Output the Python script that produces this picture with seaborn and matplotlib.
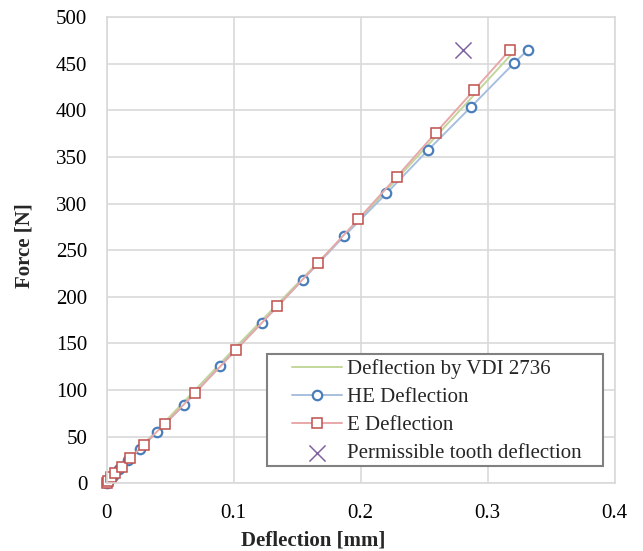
import matplotlib
matplotlib.use("Agg")
import matplotlib.pyplot as plt
from matplotlib.patches import Rectangle
import seaborn as sns
import pandas as pd

# values
vdi_defl = [0.0, 0.0995, 0.1985, 0.322]
vdi_force = [0.0, 143.0, 282.0, 465.0]

he_defl = [0.0, 0.002, 0.005, 0.0097, 0.017, 0.0265, 0.0396, 0.0605, 0.089,
           0.122, 0.1546, 0.1869, 0.2202, 0.253, 0.2871, 0.3207, 0.3317]
he_force = [0.0, 3.5, 8.0, 15.0, 24.5, 37.0, 55.0, 83.5, 125.5,
            172.0, 218.5, 265.0, 310.8, 357.3, 404.0, 450.6, 465.0]

e_defl = [0.0, 0.001, 0.0037, 0.0068, 0.012, 0.0187, 0.029, 0.0457, 0.0693,
          0.1018, 0.1344, 0.166, 0.1979, 0.2286, 0.259, 0.2895, 0.3176]
e_force = [0.7, 2.9, 6.4, 10.7, 17.5, 26.8, 41.5, 63.5, 96.6,
           143.0, 189.6, 235.7, 282.9, 329.0, 375.8, 422.0, 465.0]

perm_defl = [0.2803]
perm_force = [465.0]

x_ticks = [0, 0.1, 0.2, 0.3, 0.4]
x_labels = ["0", "0.1", "0.2", "0.3", "0.4"]
y_ticks = [0, 50, 100, 150, 200, 250, 300, 350, 400, 450, 500]

sns.set_style("whitegrid")
plt.rcParams['font.family'] = ['Liberation Serif', 'DejaVu Serif']

fig, ax = plt.subplots(figsize=(6.43, 5.51), dpi=100)
fig.subplots_adjust(left=0.166, right=0.956, top=0.969, bottom=0.123)

vdi = pd.DataFrame({"x": vdi_defl, "y": vdi_force})
he = pd.DataFrame({"x": he_defl, "y": he_force})
e = pd.DataFrame({"x": e_defl, "y": e_force})
perm = pd.DataFrame({"x": perm_defl, "y": perm_force})

sns.lineplot(data=vdi, x="x", y="y", sort=False, ax=ax, color="#C3D69B",
             lw=1.4, label="Deflection by VDI 2736", clip_on=False)
sns.lineplot(data=he, x="x", y="y", sort=False, ax=ax, color="#A7BFDE",
             lw=1.4, marker="o", ms=6.8, mfc="white", mec="#4A7EBB", mew=1.6,
             label="HE Deflection", clip_on=False)
sns.lineplot(data=e, x="x", y="y", sort=False, ax=ax, color="#E6A9A8",
             lw=1.4, marker="s", ms=6.5, mfc="white", mec="#C0504D", mew=1.1,
             label="E Deflection", clip_on=False)
sns.scatterplot(data=perm, x="x", y="y", ax=ax, marker="x", s=135,
                color="#8064A2", linewidth=1.1,
                label="Permissible tooth deflection")

ax.set_xlim(0, 0.4)
ax.set_ylim(0, 500)
ax.set_xticks(x_ticks)
ax.set_xticklabels(x_labels)
ax.set_yticks(y_ticks)
ax.tick_params(axis="both", length=0, labelsize=15, colors="black")
ax.tick_params(axis="y", pad=14)
ax.tick_params(axis="x", pad=15)
ax.grid(True, color="#D9D9D9", lw=1.2)
for s in ax.spines.values():
    s.set_color("#D9D9D9")
    s.set_linewidth(1.2)

ax.set_xlabel("Deflection [mm]", fontsize=15, fontweight="bold")
ax.set_ylabel("Force [N]", fontsize=15, fontweight="bold")
ax.xaxis.set_label_coords(0.407, -0.122)
ax.xaxis.label.set_va("center")
ax.yaxis.set_label_coords(-0.161, 0.509)
ax.yaxis.label.set_va("center")

# legend box drawn separately so the padding matches the original
box = Rectangle((0.315, 0.0365), 0.661, 0.2405, transform=ax.transAxes,
                facecolor="white", edgecolor="#808080", lw=1.5, zorder=6,
                clip_on=False)
ax.add_patch(box)
leg = ax.legend(loc="center left", bbox_to_anchor=(0.364, 0.1545),
                fontsize=15, frameon=False, handlelength=2.4,
                labelspacing=0.4, borderpad=0, borderaxespad=0,
                handletextpad=0.25)
leg.set_zorder(7)

fig.savefig("out.png", dpi=100)
